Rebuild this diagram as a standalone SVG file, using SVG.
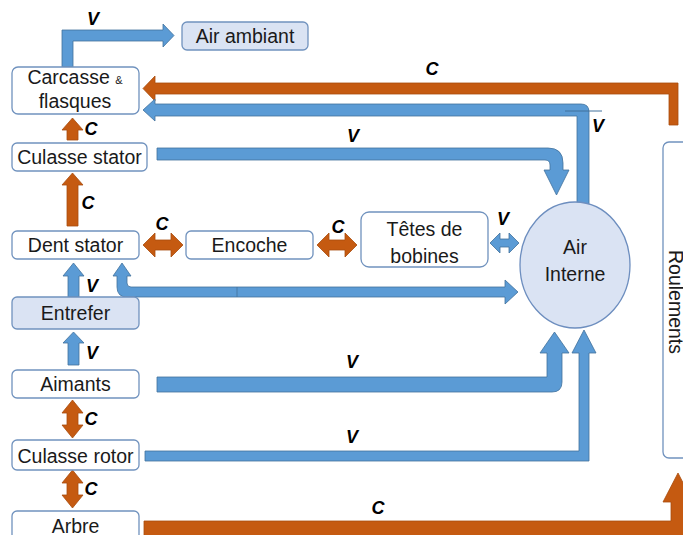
<svg xmlns="http://www.w3.org/2000/svg" width="683" height="535" viewBox="0 0 683 535">
<style>
.box{fill:#ffffff;stroke:#7092be;stroke-width:1.3}
.lb{fill:#dae3f3;stroke:#7092be;stroke-width:1.3}
.t{font-family:"Liberation Sans",Arial,sans-serif;font-size:19.5px;fill:#1a1a1a;text-anchor:middle}
.lab{font-family:"Liberation Sans",Arial,sans-serif;font-size:18px;font-weight:bold;font-style:italic;fill:#000;text-anchor:middle}
.b{fill:#5b9bd5;stroke:#41719c;stroke-width:0.8}
.o{fill:#c55a11;stroke:#a84d0e;stroke-width:0.8}
</style>
<rect width="683" height="535" fill="#ffffff"/>
<g id="connectors">
<polygon class="b" points="62,67 62,30 163,30 163,24 174,35.5 163,47 163,41 73,41 73,67"/>
<polygon class="o" points="678,125 678,83 155,83 155,76 143,88.5 155,101 155,94 669,94 669,125"/>
<path class="b" d="M577,206 V116 H155 V121 L143,110 L155,99 V104 H581 Q589,104 589,112 V206 Z"/>
<line x1="565" y1="111" x2="602" y2="111" stroke="#41719c" stroke-width="1"/>
<path class="b" d="M157,148 H548 Q563,148 563,163 V170 H569 L556.5,195 L544,170 H550 V165 Q550,160 545,160 H157 Z"/>
<polygon class="o" points="67,140 67,130 62,130 72.5,118 83,130 78,130 78,140"/>
<polygon class="o" points="67,226 67,185 62,185 72.5,173 83,185 78,185 78,226"/>
<polygon class="o" points="143,245 155,233 155,240 171,240 171,233 183,245 171,257 171,250 155,250 155,257"/>
<polygon class="o" points="317,245 329,233 329,240 345,240 345,233 357,245 345,257 345,250 329,250 329,257"/>
<polygon class="b" points="490,243 500,233 500,239 509,239 509,233 519,243 509,253 509,247 500,247 500,253"/>
<path class="b" d="M113,276 L122,263 L131,276 H127 V283 Q127,287 131,287 H505 V280 L518,292 L505,304 V297 H127 Q117,297 117,287 V276 Z"/>
<line x1="237" y1="287" x2="237" y2="297" stroke="#41719c" stroke-width="0.8"/>
<polygon class="b" points="68,297 68,276 63,276 73.5,263 84,276 79,276 79,297"/>
<polygon class="b" points="68,365 68,343 63,343 73.5,332 84,343 79,343 79,365"/>
<path class="b" d="M157,377 H547 V353 H540 L554.5,332 L569,353 H562 V382 Q562,392 552,392 H157 Z"/>
<path class="b" d="M145,451 H579 V353 H572 L584,330 L596,353 H589 V461 H145 Z"/>
<polygon class="o" points="72.5,400 83,413 78,413 78,425 83,425 72.5,438 62,425 67,425 67,413 62,413"/>
<polygon class="o" points="72.5,470 83,483 78,483 78,495 83,495 72.5,508 62,495 67,495 67,483 62,483"/>
<path class="o" d="M144,521 H671 V502 H663 L678,473 L693,502 H685 V545 H144 Z"/>
<text class="lab" x="93" y="25">V</text>
<text class="lab" x="432" y="75">C</text>
<text class="lab" x="598" y="132">V</text>
<text class="lab" x="353" y="142">V</text>
<text class="lab" x="91" y="135">C</text>
<text class="lab" x="88" y="209">C</text>
<text class="lab" x="162" y="230">C</text>
<text class="lab" x="338" y="233">C</text>
<text class="lab" x="503" y="225">V</text>
<text class="lab" x="92" y="292">V</text>
<text class="lab" x="92" y="359">V</text>
<text class="lab" x="352" y="368">V</text>
<text class="lab" x="91" y="425">C</text>
<text class="lab" x="352" y="443">V</text>
<text class="lab" x="91" y="495">C</text>
<text class="lab" x="378" y="514">C</text>
</g>
<g id="air-ambiant"><rect class="lb" x="182" y="22" width="126" height="28" rx="5"/><text class="t" x="245" y="43">Air ambiant</text></g>
<g id="carcasse"><rect class="box" x="12" y="67" width="127" height="47" rx="6"/><text class="t" x="75" y="84">Carcasse <tspan font-size="11">&amp;</tspan></text><text class="t" x="75" y="108">flasques</text></g>
<g id="culasse-stator"><rect class="box" x="12" y="143" width="135" height="28" rx="5"/><text class="t" x="79.5" y="164">Culasse stator</text></g>
<g id="dent-stator"><rect class="box" x="12" y="231" width="127" height="28" rx="5"/><text class="t" x="75.5" y="252">Dent stator</text></g>
<g id="encoche"><rect class="box" x="186" y="231" width="127" height="28" rx="5"/><text class="t" x="249.5" y="252">Encoche</text></g>
<g id="tetes"><rect class="box" x="361" y="212" width="127" height="55" rx="8"/><text class="t" x="424.5" y="236">Têtes de</text><text class="t" x="424.5" y="263">bobines</text></g>
<g id="air-interne"><ellipse cx="575" cy="265" rx="55" ry="63" fill="#dae3f3" stroke="#6d8ebf" stroke-width="1.3"/><text class="t" x="575" y="254">Air</text><text class="t" x="575" y="281">Interne</text></g>
<g id="entrefer"><rect class="lb" x="12" y="297" width="127" height="32" rx="5"/><text class="t" x="75.5" y="320">Entrefer</text></g>
<g id="aimants"><rect class="box" x="12" y="370" width="127" height="28" rx="5"/><text class="t" x="75.5" y="391">Aimants</text></g>
<g id="culasse-rotor"><rect class="box" x="12" y="440" width="127" height="30" rx="5"/><text class="t" x="75.5" y="463">Culasse rotor</text></g>
<g id="arbre"><rect class="box" x="12" y="511" width="127" height="40" rx="5"/><text class="t" x="75.5" y="533">Arbre</text></g>
<g id="roulements"><rect class="box" x="663" y="142" width="50" height="316" rx="6"/><text class="t" transform="translate(669,302) rotate(90)">Roulements</text></g>
</svg>
